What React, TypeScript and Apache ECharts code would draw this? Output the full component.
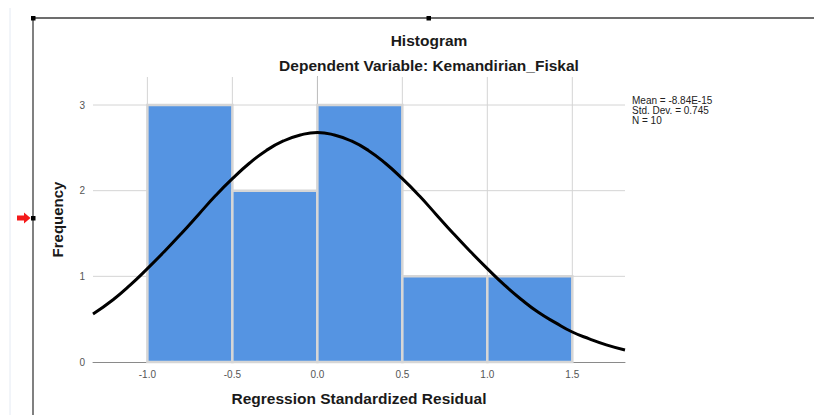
import React, { useEffect, useRef } from "react";
import * as echarts from "echarts";

const binStarts = [-1.0, -0.5, 0.0, 0.5, 1.0];
const binEnds = [-0.5, 0.0, 0.5, 1.0, 1.5];
const frequencies = [3, 2, 3, 1, 1];

const curveX = [-1.32, -1.2, -1.1, -1.0, -0.9, -0.8, -0.7, -0.6, -0.5, -0.4, -0.3, -0.2, -0.1, 0.0, 0.1, 0.2, 0.3, 0.4, 0.5, 0.6, 0.7, 0.8, 0.9, 1.0, 1.1, 1.2, 1.3, 1.4, 1.5, 1.6, 1.7, 1.81];
const curveY = [0.56, 0.73, 0.9, 1.09, 1.29, 1.5, 1.72, 1.94, 2.14, 2.32, 2.47, 2.58, 2.65, 2.68, 2.65, 2.58, 2.47, 2.32, 2.14, 1.94, 1.72, 1.5, 1.29, 1.09, 0.9, 0.73, 0.58, 0.46, 0.35, 0.27, 0.2, 0.14];

const xGridTicks = [-1.0, -0.5, 0.0, 0.5, 1.0, 1.5];
const yGridTicks = [1, 2, 3];

const titleText = "Histogram";
const subtitleText = "Dependent Variable: Kemandirian_Fiskal";
const statsLines = ["Mean = -8.84E-15", "Std. Dev. = 0.745", "N = 10"];

const FONT = "'Liberation Sans', Arial, sans-serif";

export default function App() {
  const ref = useRef<HTMLDivElement>(null);
  useEffect(() => {
    if (!ref.current) return;
    const chart = echarts.init(ref.current, null, { renderer: "svg" });
    const gridData: any[] = [
      ...xGridTicks.map((v) => ["v", v]),
      ...yGridTicks.map((v) => ["h", v]),
    ];
    const option: any = {
      animation: false,
      backgroundColor: "#ffffff",
      textStyle: { fontFamily: FONT },
      grid: { left: 93, right: 189, top: 77, bottom: 53, containLabel: false },
      xAxis: {
        type: "value",
        min: -1.32,
        max: 1.81,
        name: "Regression Standardized Residual",
        nameLocation: "middle",
        nameGap: 28,
        nameTextStyle: { fontFamily: FONT, fontSize: 15.5, fontWeight: "bold", color: "#1a1a1a" },
        axisLine: { show: true, lineStyle: { color: "#8a8a8a", width: 1 } },
        axisTick: { show: false },
        splitLine: { show: false },
        axisLabel: {
          showMinLabel: false,
          showMaxLabel: false,
          fontSize: 10,
          color: "#555",
          margin: 7,
          fontFamily: FONT,
          formatter: (v: number) => (Math.abs(v * 2 - Math.round(v * 2)) < 1e-6 ? v.toFixed(1) : ""),
        },
      },
      yAxis: {
        type: "value",
        min: 0,
        max: 3.327,
        interval: 1,
        name: "Frequency",
        nameLocation: "middle",
        nameGap: 28,
        nameTextStyle: { fontFamily: FONT, fontSize: 15, fontWeight: "bold", color: "#1a1a1a" },
        axisLine: { show: true, lineStyle: { color: "#555", width: 1 } },
        axisTick: { show: false },
        splitLine: { show: false },
        axisLabel: {
          showMaxLabel: false,
          fontSize: 10,
          color: "#555",
          margin: 8,
          fontFamily: FONT,
          formatter: (v: number) => (Math.abs(v - Math.round(v)) < 1e-6 ? String(Math.round(v)) : ""),
        },
      },
      series: [
        {
          type: "custom",
          z: 1,
          silent: true,
          data: gridData,
          renderItem: (params: any, api: any) => {
            const kind = gridData[params.dataIndex][0];
            const v = gridData[params.dataIndex][1];
            const cs = params.coordSys;
            if (kind === "v") {
              const p = api.coord([v, 0]);
              return {
                type: "line",
                shape: { x1: p[0], y1: cs.y, x2: p[0], y2: cs.y + cs.height },
                style: { stroke: "#d4d4d4", lineWidth: 1 },
              };
            }
            const p = api.coord([0, v]);
            return {
              type: "line",
              shape: { x1: cs.x, y1: p[1], x2: cs.x + cs.width, y2: p[1] },
              style: { stroke: "#d4d4d4", lineWidth: 1 },
            };
          },
        },
        {
          type: "custom",
          z: 2,
          silent: true,
          data: frequencies.map((f, i) => [binStarts[i], binEnds[i], f]),
          renderItem: (params: any, api: any) => {
            const a = api.coord([api.value(0), api.value(2)]);
            const b = api.coord([api.value(1), 0]);
            return {
              type: "rect",
              shape: { x: a[0], y: a[1], width: b[0] - a[0], height: b[1] - a[1] },
              style: { fill: "#5594e2", stroke: "#d6d6d6", lineWidth: 2.5 },
            };
          },
        },
        {
          type: "line",
          z: 3,
          silent: true,
          smooth: true,
          showSymbol: false,
          symbol: "none",
          data: curveX.map((x, i) => [x, curveY[i]]),
          lineStyle: { color: "#000", width: 3 },
        },
      ],
      graphic: [
        { type: "line", shape: { x1: 10, y1: 8, x2: 10, y2: 415 }, style: { stroke: "#e4eaf3", lineWidth: 1 } },
        { type: "line", shape: { x1: 33, y1: 18, x2: 814, y2: 18 }, style: { stroke: "#3c3c3c", lineWidth: 1.3 } },
        { type: "line", shape: { x1: 33, y1: 18, x2: 33, y2: 415 }, style: { stroke: "#3c3c3c", lineWidth: 1.3 } },
        { type: "rect", shape: { x: 31, y: 16, width: 4.5, height: 4.5 }, style: { fill: "#000" } },
        { type: "rect", shape: { x: 426.5, y: 16, width: 4.5, height: 4.5 }, style: { fill: "#000" } },
        { type: "rect", shape: { x: 31, y: 216, width: 4.5, height: 4.5 }, style: { fill: "#000" } },
        {
          type: "polygon",
          shape: { points: [[17, 215.5], [24, 215.5], [24, 212.5], [30.5, 218], [24, 223.5], [24, 220.5], [17, 220.5]] },
          style: { fill: "#f41a1a" },
        },
        {
          type: "text",
          x: 429,
          y: 40,
          style: { text: titleText, fontFamily: FONT, fontSize: 15.5, fontWeight: "bold", fill: "#1a1a1a", textAlign: "center", textVerticalAlign: "middle" },
        },
        {
          type: "text",
          x: 429,
          y: 65,
          style: { text: subtitleText, fontFamily: FONT, fontSize: 15.5, fontWeight: "bold", fill: "#1a1a1a", textAlign: "center", textVerticalAlign: "middle" },
        },
        ...statsLines.map((s, i) => ({
          type: "text",
          x: 632,
          y: 100 + i * 10,
          style: { text: s, fontFamily: FONT, fontSize: 10, fill: "#222", textAlign: "left", textVerticalAlign: "middle" },
        })),
      ],
    };
    chart.setOption(option);
    return () => chart.dispose();
  }, []);
  return <div ref={ref} style={{ position: "absolute", left: 0, top: 0, width: 814, height: 415 }} />;
}
